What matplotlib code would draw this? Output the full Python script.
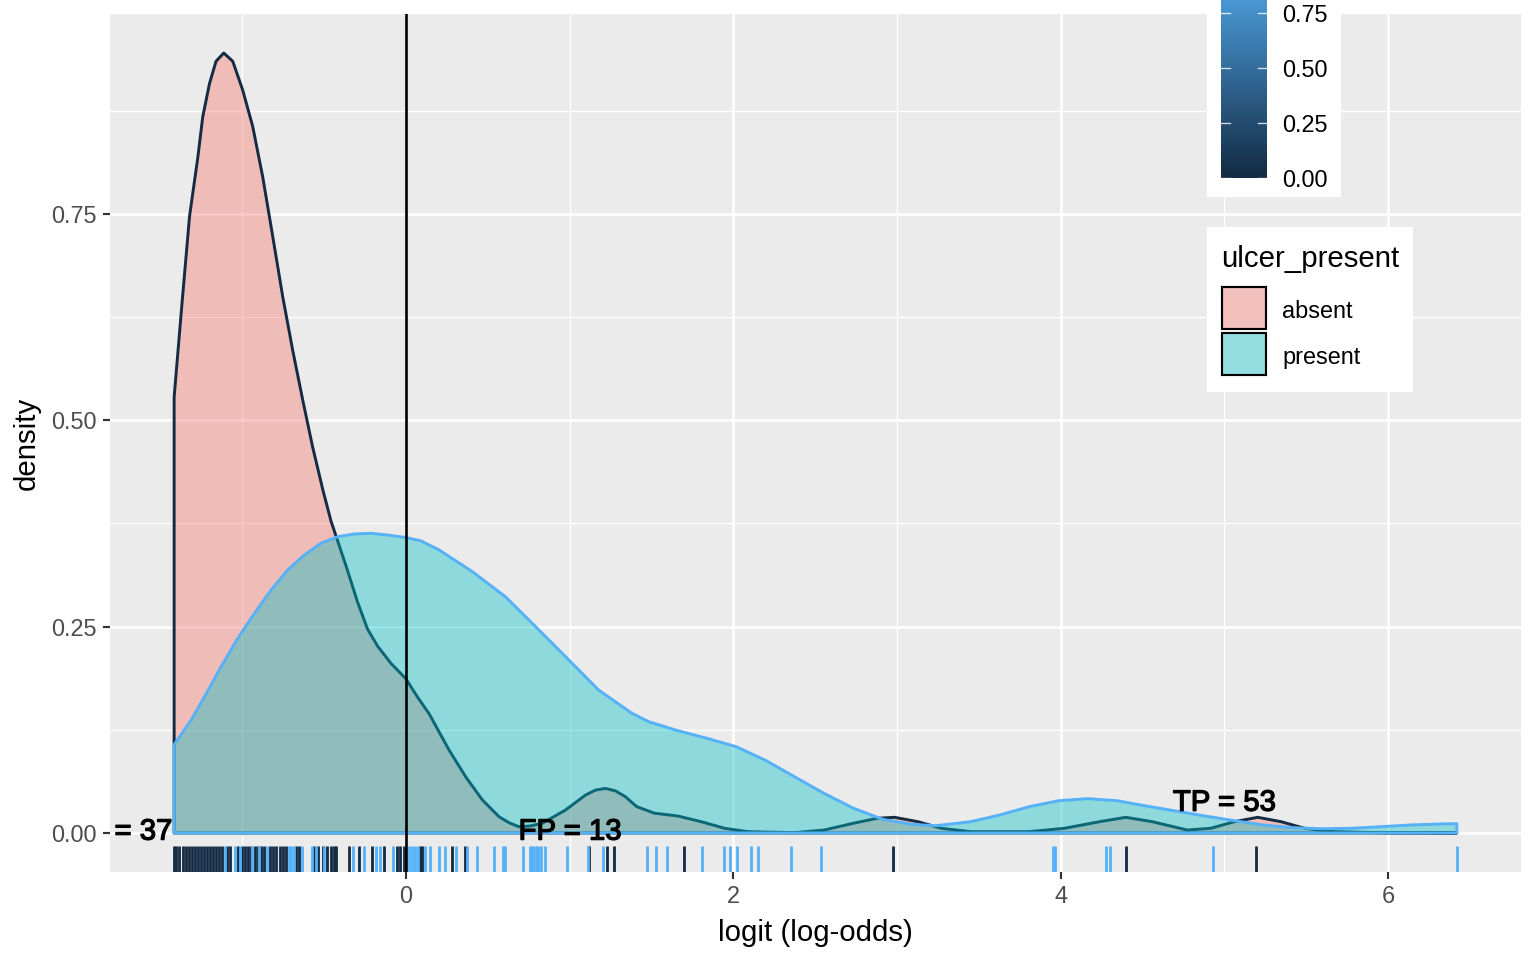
import numpy as np
import matplotlib
matplotlib.use("Agg")
import matplotlib.pyplot as plt
import matplotlib.patheffects as pe
from matplotlib.patches import Rectangle
from matplotlib.colors import LinearSegmentedColormap
from matplotlib.transforms import blended_transform_factory

plt.rcParams['font.family'] = ['Liberation Sans', 'DejaVu Sans']

# density curves (logit, density)
absent_x = [-1.415, -1.372, -1.321, -1.270, -1.240, -1.199, -1.159, -1.112, -1.057, -0.996,
            -0.935, -0.874, -0.813, -0.752, -0.691, -0.630, -0.569, -0.508, -0.457, -0.416,
            -0.355, -0.295, -0.234, -0.173, -0.091, 0.000, 0.071, 0.142, 0.264, 0.366,
            0.468, 0.569, 0.630, 0.691, 0.760, 0.834, 0.976, 1.098, 1.159, 1.220,
            1.281, 1.341, 1.410, 1.518, 1.661, 1.804, 1.947, 2.090, 2.376, 2.555,
            2.734, 2.878, 2.985, 3.128, 3.271, 3.450, 3.808, 4.023, 4.238, 4.398,
            4.559, 4.774, 4.917, 5.061, 5.204, 5.346, 5.490, 5.668, 5.955, 6.420]
absent_y = [0.528, 0.630, 0.747, 0.819, 0.868, 0.908, 0.935, 0.945, 0.935, 0.900,
            0.856, 0.795, 0.723, 0.650, 0.585, 0.525, 0.4677, 0.4168, 0.378, 0.3538,
            0.3175, 0.2799, 0.2472, 0.2266, 0.2056, 0.187, 0.1648, 0.1446, 0.1006, 0.068,
            0.040, 0.0198, 0.0125, 0.0076, 0.0085, 0.0118, 0.0279, 0.046, 0.052, 0.054,
            0.051, 0.044, 0.032, 0.024, 0.0206, 0.0137, 0.0057, 0.0016, 0.0004, 0.0036,
            0.0118, 0.0178, 0.019, 0.0137, 0.0057, 0.0016, 0.0016, 0.0057, 0.0137, 0.019,
            0.0137, 0.0036, 0.0057, 0.0137, 0.019, 0.0137, 0.0057, 0.0016, 0.0004, 0.0]

present_x = [-1.415, -1.311, -1.230, -1.128, -1.026, -0.925, -0.823, -0.721, -0.620, -0.518,
             -0.416, -0.315, -0.213, -0.112, 0.000, 0.091, 0.203, 0.407, 0.610, 0.793,
             0.976, 1.179, 1.382, 1.482, 1.661, 1.840, 2.018, 2.198, 2.376, 2.555,
             2.734, 2.913, 3.091, 3.235, 3.450, 3.628, 3.808, 3.987, 4.165, 4.345,
             4.523, 4.701, 4.881, 5.061, 5.238, 5.418, 5.598, 5.774, 5.955, 6.134,
             6.311, 6.420]
present_y = [0.107, 0.137, 0.165, 0.2015, 0.236, 0.266, 0.2944, 0.3187, 0.3368, 0.351,
             0.359, 0.3623, 0.3631, 0.361, 0.358, 0.354, 0.343, 0.3166, 0.286, 0.250,
             0.2136, 0.173, 0.145, 0.135, 0.124, 0.1147, 0.1046, 0.088, 0.068, 0.048,
             0.030, 0.0166, 0.0105, 0.0088, 0.0137, 0.0218, 0.0319, 0.0391, 0.0416, 0.0391,
             0.0327, 0.0267, 0.0206, 0.0149, 0.0097, 0.0064, 0.0052, 0.0057, 0.0076, 0.0097,
             0.0109, 0.0113]

# rug: logit of each observation
absent_rug = [-1.415, -1.402, -1.384, -1.360, -1.341, -1.323, -1.305, -1.287, -1.268, -1.250,
              -1.232, -1.213, -1.195, -1.177, -1.159, -1.140, -1.122, -1.091, -1.073, -1.024,
              -1.000, -0.982, -0.963, -0.945, -0.921, -0.902, -0.884, -0.866, -0.829, -0.811,
              -0.793, -0.768, -0.750, -0.732, -0.671, -0.652, -0.561, -0.537, -0.506, -0.482,
              -0.457, -0.439, -0.427, -0.348, -0.287, -0.207, -0.134, -0.055, -0.037, -0.012,
              0.085, 0.098, 0.280, 0.360, 1.122, 1.232, 1.274, 1.701, 2.976, 4.402, 5.195]
present_rug = [-1.104, -1.043, -1.012, -0.939, -0.896, -0.848, -0.713, -0.701, -0.683, -0.634,
               -0.573, -0.549, -0.500, -0.323, -0.256, -0.183, -0.159, -0.079, 0.018, 0.037,
               0.055, 0.073, 0.116, 0.146, 0.201, 0.238, 0.305, 0.372, 0.433, 0.537,
               0.591, 0.604, 0.713, 0.756, 0.768, 0.780, 0.793, 0.805, 0.823, 0.848,
               0.982, 1.110, 1.207, 1.476, 1.530, 1.598, 1.811, 1.945, 1.982, 2.024,
               2.110, 2.152, 2.354, 2.537, 3.951, 3.963, 4.274, 4.299, 4.933, 6.42]

labels = ["TN = 37", "FP = 13", "TP = 53"]
label_x = [-1.747, 1.003, 5.0]
label_y = [-0.008, -0.008, 0.027]

groups = ["absent", "present"]
x_ticks = [0, 2, 4, 6]
x_minor = [-1, 1, 3, 5]
y_ticks = [0, 0.25, 0.5, 0.75]
y_minor = [0.125, 0.375, 0.625, 0.875]
cbar_ticks = [0, 0.25, 0.5, 0.75, 1.0]

LOW = "#132B43"
HIGH = "#56B1F7"
FILLS = ["#F8766D", "#00BFC4"]
LINES = [LOW, HIGH]

W, H = 1536, 960
fig = plt.figure(figsize=(8, 5), dpi=192)
ax = fig.add_axes([110 / W, 1 - 872 / H, (1521 - 110) / W, (872 - 14) / H])
ax.set_facecolor("#EBEBEB")
for s in ax.spines.values():
    s.set_visible(False)

curves = [(absent_x, absent_y), (present_x, present_y)]
for i, (cx, cy) in enumerate(curves):
    cx = np.array(cx)
    cy = np.array(cy)
    ax.fill_between(cx, cy, 0, color=FILLS[i], alpha=0.4, lw=0, zorder=2 + 2 * i)
    ox = np.concatenate([[cx[0]], cx, [cx[-1], cx[0]]])
    oy = np.concatenate([[0], cy, [0, 0]])
    ax.plot(ox, oy, color=LINES[i], lw=1.1, zorder=3 + 2 * i,
            solid_joinstyle='round', solid_capstyle='round')

xt = ax.get_xaxis_transform()
ax.vlines(absent_rug, 0, 0.03, transform=xt, colors=LOW, lw=1.05, zorder=6)
ax.vlines(present_rug, 0, 0.03, transform=xt, colors=HIGH, lw=1.05, zorder=6)
ax.axvline(0, color="black", lw=1.0, zorder=7)

for t, lx, ly in zip(labels, label_x, label_y):
    ax.text(lx, ly, t, ha="center", va="baseline", fontsize=11, color="black",
            clip_on=True, zorder=8,
            path_effects=[pe.withStroke(linewidth=0.5, foreground="black")])

allx = absent_x + present_x
lo, hi = min(allx), max(allx)
pad = (hi - lo) * 0.05
ax.set_xlim(lo - pad, hi + pad)
ymax = max(absent_y + present_y)
ax.set_ylim(-ymax * 0.05, ymax * 1.05)

ax.set_xticks(x_ticks)
ax.set_xticklabels([str(v) for v in x_ticks])
ax.set_yticks(y_ticks)
ax.set_yticklabels(["%.2f" % v for v in y_ticks])
ax.set_xticks(x_minor, minor=True)
ax.set_yticks(y_minor, minor=True)
ax.grid(which="major", color="white", lw=1.0, zorder=0)
ax.grid(which="minor", color="white", lw=0.5, zorder=0)
ax.set_axisbelow(True)
ax.tick_params(which="major", length=2.75, width=0.8, color="#333333",
               labelcolor="#4D4D4D", labelsize=8.8, pad=2.2)
ax.tick_params(which="minor", length=0)
ax.set_xlabel("logit (log-odds)", fontsize=11, labelpad=4)
ax.set_ylabel("density", fontsize=11, labelpad=4)

# colour bar legend (runs off the top of the picture)
fig.add_artist(Rectangle((1207 / W, 1 - 197 / H), (1341 - 1207) / W, 0.4,
                         transform=fig.transFigure, facecolor="white", edgecolor="none", zorder=3))
cax = fig.add_axes([1221 / W, 1 - 183 / H, 46 / W, 230 / H], zorder=4)
cmap = LinearSegmentedColormap.from_list("gg", [LOW, HIGH])
grad = np.linspace(0, 1, 200).reshape(-1, 1)
cax.imshow(grad, cmap=cmap, aspect="auto", origin="lower", extent=[0, 1, 0, 1])
cax.set_xlim(0, 1)
cax.set_ylim(-0.0227, 1.0227)
cax.axis("off")
ct = blended_transform_factory(cax.transAxes, cax.transData)
for v in cbar_ticks:
    cax.plot([0, 0.2], [v, v], color="white", lw=0.5, transform=ct, alpha=0.8)
    cax.plot([0.8, 1.0], [v, v], color="white", lw=0.5, transform=ct, alpha=0.8)
    cax.text(1.33, v, "%.2f" % v, transform=ct, va="center_baseline", ha="left",
             fontsize=8.8, color="black", clip_on=False)

# fill legend
fig.add_artist(Rectangle((1207 / W, 1 - 392 / H), (1413 - 1207) / W, (392 - 227) / H,
                         transform=fig.transFigure, facecolor="white", edgecolor="none", zorder=3))
fig.text(1221 / W, 1 - 267 / H, "ulcer_present", fontsize=11, va="baseline", ha="left", zorder=5)
for i, g in enumerate(groups):
    top = 287 + 46 * i
    box = (1222 / W, 1 - (top + 42) / H)
    fig.add_artist(Rectangle(box, 44 / W, 42 / H, transform=fig.transFigure,
                             facecolor="#F2F2F2", edgecolor="none", zorder=4))
    fig.add_artist(Rectangle(box, 44 / W, 42 / H, transform=fig.transFigure,
                             facecolor=FILLS[i], alpha=0.4, edgecolor="none", zorder=5))
    fig.add_artist(Rectangle(box, 44 / W, 42 / H, transform=fig.transFigure,
                             facecolor="none", edgecolor="black", lw=0.8, zorder=6))
    fig.text(1282 / W, 1 - (top + 22) / H, g, fontsize=8.8, va="center_baseline",
             ha="left", zorder=6)

fig.savefig("out.png", dpi=192, facecolor="white")
